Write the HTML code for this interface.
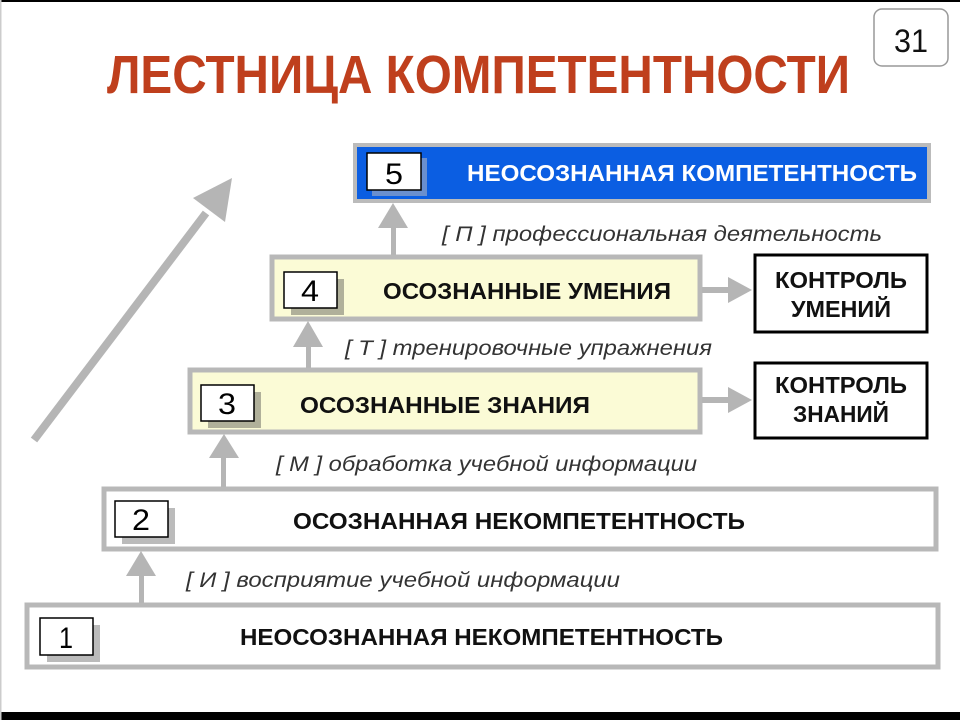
<!DOCTYPE html>
<html><head><meta charset="utf-8"><style>
html,body{margin:0;padding:0;background:#fff;width:960px;height:720px;overflow:hidden}
svg{display:block}
text{font-family:"Liberation Sans",sans-serif}
</style></head><body>
<svg width="960" height="720" viewBox="0 0 960 720" xmlns="http://www.w3.org/2000/svg">
<rect x="0" y="0" width="960" height="2" fill="#000"/>
<rect x="0" y="712" width="960" height="8" fill="#000"/>
<rect x="0" y="0" width="1.5" height="720" fill="#ccc"/>

<text x="107" y="93" font-size="54" font-weight="bold" fill="#bf3f1d" textLength="743" lengthAdjust="spacingAndGlyphs">ЛЕСТНИЦА КОМПЕТЕНТНОСТИ</text>
<rect x="874" y="9" width="74" height="57" rx="8" fill="#fff" stroke="#999" stroke-width="1.5"/>
<text x="911" y="52" font-size="32" text-anchor="middle" fill="#111" textLength="34" lengthAdjust="spacingAndGlyphs">31</text>

<!-- diagonal arrow -->
<line x1="34" y1="440" x2="206" y2="213" stroke="#b5b5b5" stroke-width="8"/>
<polygon points="232,178 225,222 193,198" fill="#b5b5b5"/>

<!-- Box 5 -->
<rect x="355" y="145" width="574" height="56" fill="#0b5ee2" stroke="#bbb" stroke-width="4"/>
<rect x="372" y="158" width="55" height="38" fill="#6a8fce"/>
<rect x="367" y="153" width="54" height="37" fill="#fff" stroke="#000" stroke-width="1.5"/>
<text x="394" y="184" font-size="30" text-anchor="middle" fill="#000" textLength="18" lengthAdjust="spacingAndGlyphs">5</text>
<text x="467" y="181" font-size="23" font-weight="bold" fill="#fff" textLength="450" lengthAdjust="spacingAndGlyphs">НЕОСОЗНАННАЯ  КОМПЕТЕНТНОСТЬ</text>

<!-- arrow 4->5 -->
<rect x="391" y="226" width="5" height="32" fill="#b5b5b5"/>
<polygon points="393,203 378,228 408,228" fill="#b5b5b5"/>
<text x="442" y="241" font-size="21" font-style="italic" fill="#333" textLength="440" lengthAdjust="spacingAndGlyphs">[ П ] профессиональная деятельность</text>

<!-- Box 4 -->
<rect x="272" y="257" width="428" height="62" fill="#fbfbd6" stroke="#b8b8b8" stroke-width="5"/>
<rect x="291" y="279" width="53" height="36" fill="#b0b09a"/>
<rect x="284" y="272" width="53" height="36" fill="#fff" stroke="#000" stroke-width="1.5"/>
<text x="310" y="301" font-size="30" text-anchor="middle" fill="#000" textLength="18" lengthAdjust="spacingAndGlyphs">4</text>
<text x="383" y="299" font-size="23" font-weight="bold" fill="#111" textLength="288" lengthAdjust="spacingAndGlyphs">ОСОЗНАННЫЕ  УМЕНИЯ</text>
<rect x="702" y="287" width="28" height="6" fill="#b5b5b5"/>
<polygon points="752,290 728,277 728,303" fill="#b5b5b5"/>
<rect x="755" y="255" width="172" height="77" fill="#fff" stroke="#000" stroke-width="3"/>
<text x="841" y="288" font-size="23" font-weight="bold" text-anchor="middle" fill="#111" textLength="132" lengthAdjust="spacingAndGlyphs">КОНТРОЛЬ</text>
<text x="841" y="317" font-size="23" font-weight="bold" text-anchor="middle" fill="#111" textLength="100" lengthAdjust="spacingAndGlyphs">УМЕНИЙ</text>

<!-- arrow 3->4 -->
<rect x="306" y="345" width="5" height="26" fill="#b5b5b5"/>
<polygon points="308,321 293,347 323,347" fill="#b5b5b5"/>
<text x="345" y="355" font-size="21" font-style="italic" fill="#333" textLength="367" lengthAdjust="spacingAndGlyphs">[ Т ] тренировочные упражнения</text>

<!-- Box 3 -->
<rect x="190" y="370" width="510" height="62" fill="#fbfbd6" stroke="#b8b8b8" stroke-width="5"/>
<rect x="208" y="392" width="53" height="36" fill="#b0b09a"/>
<rect x="201" y="385" width="53" height="36" fill="#fff" stroke="#000" stroke-width="1.5"/>
<text x="227" y="414" font-size="30" text-anchor="middle" fill="#000" textLength="18" lengthAdjust="spacingAndGlyphs">3</text>
<text x="300" y="413" font-size="23" font-weight="bold" fill="#111" textLength="290" lengthAdjust="spacingAndGlyphs">ОСОЗНАННЫЕ  ЗНАНИЯ</text>
<rect x="702" y="397" width="28" height="6" fill="#b5b5b5"/>
<polygon points="752,400 728,387 728,413" fill="#b5b5b5"/>
<rect x="755" y="363" width="172" height="75" fill="#fff" stroke="#000" stroke-width="3"/>
<text x="841" y="393" font-size="23" font-weight="bold" text-anchor="middle" fill="#111" textLength="132" lengthAdjust="spacingAndGlyphs">КОНТРОЛЬ</text>
<text x="841" y="422" font-size="23" font-weight="bold" text-anchor="middle" fill="#111" textLength="96" lengthAdjust="spacingAndGlyphs">ЗНАНИЙ</text>

<!-- arrow 2->3 -->
<rect x="221" y="456" width="5" height="32" fill="#b5b5b5"/>
<polygon points="224,434 209,458 239,458" fill="#b5b5b5"/>
<text x="276" y="471" font-size="21" font-style="italic" fill="#333" textLength="421" lengthAdjust="spacingAndGlyphs">[ М ] обработка учебной информации</text>

<!-- Box 2 -->
<rect x="104" y="489" width="832" height="60" fill="#fff" stroke="#b8b8b8" stroke-width="5"/>
<rect x="122" y="508" width="53" height="36" fill="#bbb"/>
<rect x="115" y="501" width="53" height="36" fill="#fff" stroke="#000" stroke-width="1.5"/>
<text x="141" y="530" font-size="30" text-anchor="middle" fill="#000" textLength="18" lengthAdjust="spacingAndGlyphs">2</text>
<text x="293" y="529" font-size="23" font-weight="bold" fill="#111" textLength="452" lengthAdjust="spacingAndGlyphs">ОСОЗНАННАЯ  НЕКОМПЕТЕНТНОСТЬ</text>

<!-- arrow 1->2 -->
<rect x="139" y="574" width="5" height="31" fill="#b5b5b5"/>
<polygon points="141,551 126,576 156,576" fill="#b5b5b5"/>
<text x="186" y="587" font-size="21" font-style="italic" fill="#333" textLength="434" lengthAdjust="spacingAndGlyphs">[ И ] восприятие учебной информации</text>

<!-- Box 1 -->
<rect x="27" y="605" width="911" height="62" fill="#fff" stroke="#b8b8b8" stroke-width="5"/>
<rect x="47" y="625" width="53" height="37" fill="#bbb"/>
<rect x="40" y="618" width="53" height="37" fill="#fff" stroke="#000" stroke-width="1.5"/>
<text x="66" y="648" font-size="30" text-anchor="middle" fill="#000" textLength="14" lengthAdjust="spacingAndGlyphs">1</text>
<text x="240" y="645" font-size="23" font-weight="bold" fill="#111" textLength="483" lengthAdjust="spacingAndGlyphs">НЕОСОЗНАННАЯ  НЕКОМПЕТЕНТНОСТЬ</text>
</svg>
</body></html>
